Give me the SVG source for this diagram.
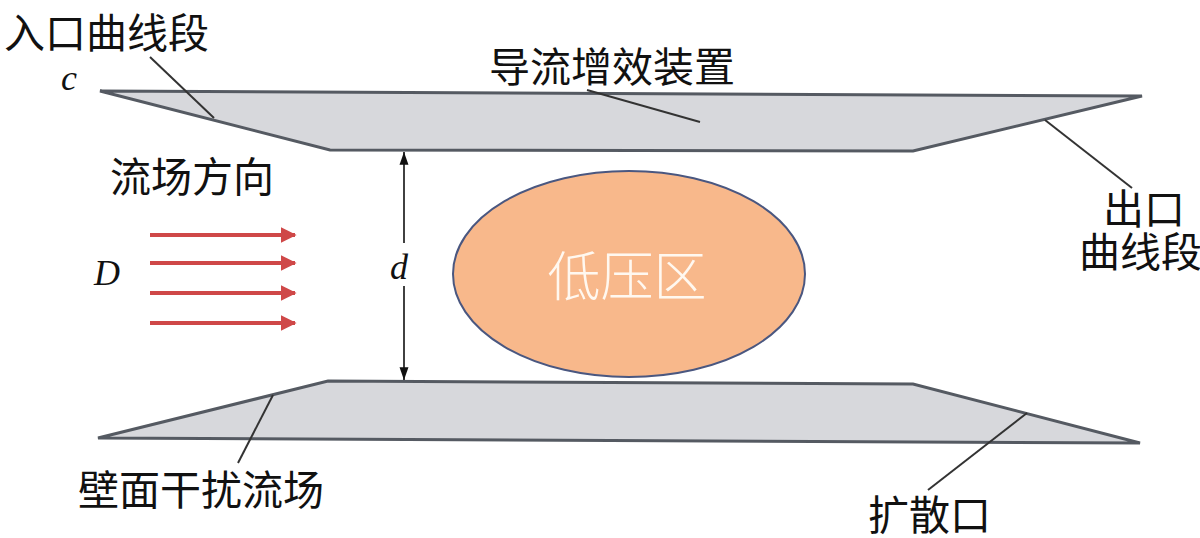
<svg xmlns="http://www.w3.org/2000/svg" width="1200" height="538" viewBox="0 0 1200 538">
<style>
.cn{font-family:"Liberation Serif","Noto Sans CJK SC",serif;font-size:41px;fill:#111}
.it{font-family:"Liberation Serif",serif;font-style:italic;font-size:36px;fill:#111}
.plate{fill:#d7d8dc;stroke:#555a62;stroke-width:3;stroke-linejoin:miter}
.lead{stroke:#333;stroke-width:2;fill:none}
.flow{stroke:#cf4848;stroke-width:4;fill:none}
</style>
<defs>
<marker id="ra" viewBox="0 0 10 10" refX="9" refY="5" markerWidth="4" markerHeight="4" markerUnits="strokeWidth" orient="auto">
<path d="M0,0 L10,5 L0,10 z" fill="#cf4848"/>
</marker>
<marker id="ka" viewBox="0 0 10 10" refX="10" refY="5" markerWidth="8" markerHeight="10" markerUnits="strokeWidth" orient="auto">
<path d="M0,1.5 L10,5 L0,8.5 z" fill="#111"/>
</marker>
</defs>
<rect width="1200" height="538" fill="#fff"/>
<g id="top-plate">
<polygon class="plate" points="100,91 1142,96 913,151 330,150"/>
</g>
<g id="bottom-plate">
<polygon class="plate" points="328,381 913,384 1140,443 98,438"/>
</g>
<g id="low-pressure-zone">
<ellipse cx="629" cy="274" rx="176" ry="103" fill="#f8b88b" stroke="#4a5780" stroke-width="2"/>
<text x="627" y="296" text-anchor="middle" style="font-family:'Noto Sans CJK SC',sans-serif;font-weight:300;font-size:53px;fill:#fff8f0">低压区</text>
</g>
<g id="connectors">
<line class="lead" x1="150" y1="57" x2="214" y2="118"/>
<line class="lead" x1="587" y1="90" x2="700" y2="122"/>
<line class="lead" x1="1045" y1="120" x2="1132" y2="188"/>
<line class="lead" x1="273" y1="395" x2="238" y2="463"/>
<line class="lead" x1="1027" y1="413" x2="928" y2="490"/>
<line x1="404" y1="243" x2="404" y2="152" stroke="#111" stroke-width="1.6" marker-end="url(#ka)"/>
<line x1="404" y1="286" x2="404" y2="380" stroke="#111" stroke-width="1.6" marker-end="url(#ka)"/>
<line class="flow" x1="150" y1="235" x2="295" y2="235" marker-end="url(#ra)"/>
<line class="flow" x1="150" y1="263" x2="295" y2="263" marker-end="url(#ra)"/>
<line class="flow" x1="150" y1="293" x2="295" y2="293" marker-end="url(#ra)"/>
<line class="flow" x1="150" y1="323" x2="295" y2="323" marker-end="url(#ra)"/>
</g>
<g id="labels">
<text class="cn" x="4" y="48">入口曲线段</text>
<text class="cn" x="489" y="82">导流增效装置</text>
<text class="cn" x="110" y="192">流场方向</text>
<text class="cn" x="1103" y="224">出口</text>
<text class="cn" x="1079" y="267">曲线段</text>
<text class="cn" x="78" y="505">壁面干扰流场</text>
<text class="cn" x="868" y="530">扩散口</text>
<text class="it" x="61" y="90">c</text>
<text class="it" x="94" y="285">D</text>
<text class="it" x="390" y="279">d</text>
</g>
</svg>
